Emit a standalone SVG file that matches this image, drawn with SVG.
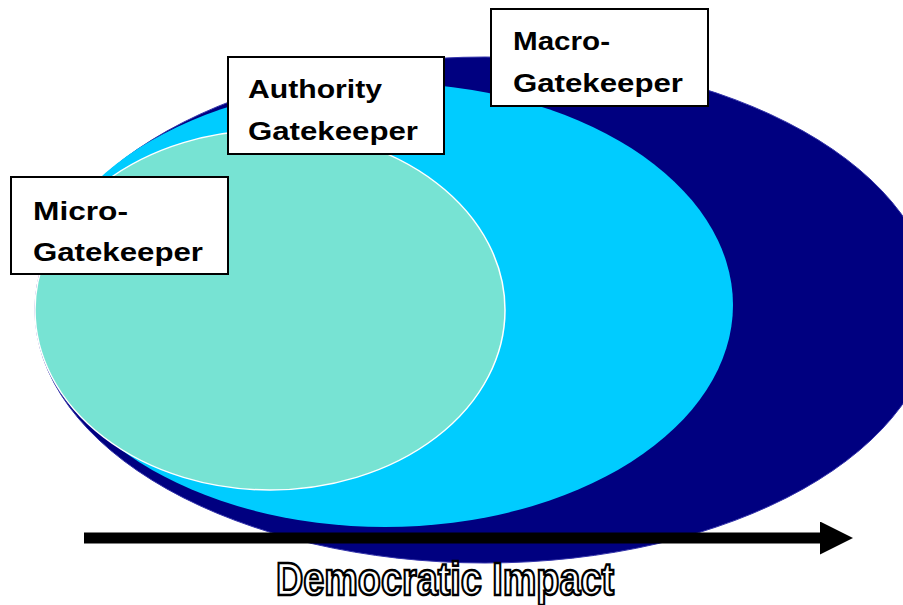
<svg xmlns="http://www.w3.org/2000/svg" width="903" height="605" viewBox="0 0 903 605">
<style>
.box{fill:#fff;stroke:#000;stroke-width:2}
.lbl{font-family:"Liberation Sans",Arial,sans-serif;font-weight:bold;font-size:25px;fill:#000}
</style>
<defs>
<marker id="ah" markerWidth="3" markerHeight="3" refX="0" refY="1.5" orient="auto" markerUnits="strokeWidth">
<path d="M0,0 L3,1.5 L0,3 Z" fill="#000"/>
</marker>
</defs>
<rect width="903" height="605" fill="#fff"/>
<g id="macro-area"><ellipse cx="485" cy="310" rx="450" ry="253" fill="#000080" stroke="#3333aa" stroke-width="1"/></g>
<g id="authority-area"><ellipse cx="385" cy="305" rx="348" ry="222" fill="#00CCFF"/></g>
<g id="micro-area"><ellipse cx="270" cy="310" rx="235" ry="180" fill="#77E3D3" stroke="#fff" stroke-width="1.5"/></g>
<g id="connectors">
<line x1="84" y1="538" x2="820" y2="538" stroke="#000" stroke-width="11" marker-end="url(#ah)"/>
</g>
<g id="micro-label">
<rect class="box" x="11" y="177" width="217" height="97"/>
<text class="lbl" x="33" y="220" textLength="95" lengthAdjust="spacingAndGlyphs">Micro-</text>
<text class="lbl" x="33" y="261" textLength="170" lengthAdjust="spacingAndGlyphs">Gatekeeper</text>
</g>
<g id="authority-label">
<rect class="box" x="228" y="57" width="216" height="97"/>
<text class="lbl" x="248" y="98" textLength="134" lengthAdjust="spacingAndGlyphs">Authority</text>
<text class="lbl" x="248" y="140" textLength="170" lengthAdjust="spacingAndGlyphs">Gatekeeper</text>
</g>
<g id="macro-label">
<rect class="box" x="491" y="9" width="217" height="97"/>
<text class="lbl" x="513" y="50" textLength="97" lengthAdjust="spacingAndGlyphs">Macro-</text>
<text class="lbl" x="513" y="92" textLength="170" lengthAdjust="spacingAndGlyphs">Gatekeeper</text>
</g>
<g id="axis-label">
<text x="276" y="595" font-family="'Liberation Sans Narrow','Liberation Sans',Arial,sans-serif" font-weight="bold" font-size="46" textLength="338" lengthAdjust="spacingAndGlyphs" fill="#fff" stroke="#000" stroke-width="2.5">Democratic Impact</text>
</g>
</svg>
